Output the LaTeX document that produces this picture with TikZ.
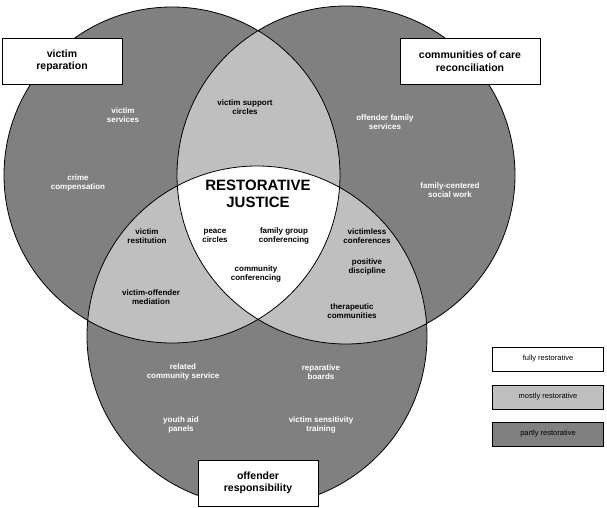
\documentclass[tikz,border=0pt]{standalone}
\usepackage{fontspec}
\setmainfont{Liberation Sans}
\begin{document}
\begin{tikzpicture}[x=1pt,y=-1pt,
  lab/.style={font=\bfseries\fontsize{8}{9.5}\selectfont,align=center,text=white},
  labk/.style={lab,text=black},
  tag/.style={draw=black,fill=white,font=\bfseries\fontsize{10.5}{12.5}\selectfont,align=center,line width=0.8pt},
  leg/.style={draw=black,font=\fontsize{7.5}{9}\selectfont,minimum width=111pt,minimum height=24pt,line width=0.8pt}]
\useasboundingbox (0,0) rectangle (607,508);
\def\cA{(172,175) circle (168)}
\def\cB{(346,175) circle (169)}
\def\cC{(257,336) circle (170)}
\fill[black!50] \cA; \fill[black!50] \cB; \fill[black!50] \cC;
\begin{scope}\clip \cA; \fill[black!25] \cB; \fill[black!25] \cC;\end{scope}
\begin{scope}\clip \cB; \fill[black!25] \cC;\end{scope}
\begin{scope}\clip \cA; \clip \cB; \fill[white] \cC;\end{scope}
\draw[line width=0.8pt] \cA; \draw[line width=0.8pt] \cB; \draw[line width=0.8pt] \cC;
\node[tag,minimum width=120pt,minimum height=46pt] (t1) at (62,61) {victim\\reparation};
\node[tag,minimum width=140pt,minimum height=46pt] (t2) at (470,61) {communities of care\\reconciliation};
\node[tag,minimum width=120pt,minimum height=46pt] (t3) at (258,483) {offender\\responsibility};
\node[lab] (n1) at (123,115) {victim\\services};
\node[lab] (n2) at (78,183) {crime\\compensation};
\node[labk] (n3) at (245,107) {victim support\\circles};
\node[lab] (n4) at (385,122) {offender family\\services};
\node[lab] (n5) at (450,190) {family-centered\\social work};
\node[font=\bfseries\fontsize{15}{17}\selectfont,align=center] (rj) at (258,194) {RESTORATIVE\\JUSTICE};
\node[labk] (n6) at (215,236) {peace\\circles};
\node[labk] (n7) at (284,236) {family group\\conferencing};
\node[labk] (n8) at (256,274) {community\\conferencing};
\node[labk] (n9) at (147,236) {victim\\restitution};
\node[labk] (n10) at (367,236) {victimless\\conferences};
\node[labk] (n11) at (367,267) {positive\\discipline};
\node[labk] (n12) at (151,297) {victim-offender\\mediation};
\node[labk] (n13) at (352,311) {therapeutic\\communities};
\node[lab] (n14) at (183,372) {related\\community service};
\node[lab] (n15) at (321,372) {reparative\\boards};
\node[lab] (n16) at (181,425) {youth aid\\panels};
\node[lab] (n17) at (321,425) {victim sensitivity\\training};
\node[leg,fill=white] (l1) at (548,359) {fully restorative};
\node[leg,fill=black!25] (l2) at (548,397) {mostly restorative};
\node[leg,fill=black!50] (l3) at (548,434) {partly restorative};
\end{tikzpicture}
\end{document}
